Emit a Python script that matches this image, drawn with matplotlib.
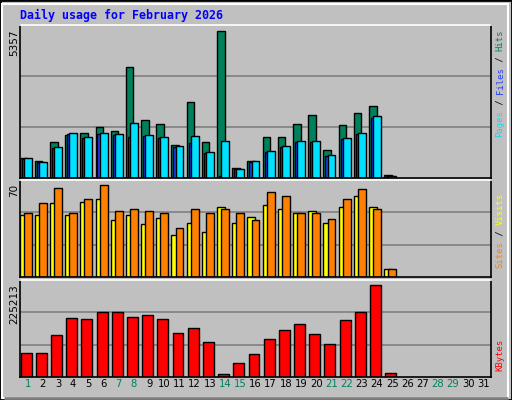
import matplotlib
matplotlib.use("Agg")
import matplotlib.pyplot as plt
from matplotlib.patches import Rectangle
import numpy as np

days = list(range(1, 32))
hits = [730, 620, 1310, 1570, 1640, 1860, 1710, 4040, 2110, 1970, 1200, 2770, 1310, 5357, 360,
        620, 1490, 1490, 1970, 2290, 1020, 1930, 2370, 2620, 110]
files = [700, 570, 1080, 1600, 1450, 1600, 1560, 1500, 1520, 1450, 1120, 1270, 920, 60, 310,
         600, 950, 1120, 1300, 1300, 800, 1420, 1600, 2200, 60]
pages = [730, 580, 1130, 1640, 1490, 1640, 1600, 2000, 1570, 1490, 1160, 1530, 950, 1350, 330,
         620, 980, 1160, 1350, 1350, 840, 1460, 1640, 2260, 70]
visits = [47, 47, 56, 47, 57, 59, 43, 47, 40, 45, 32, 41, 34, 53, 41, 46, 55, 52, 49, 50, 41, 53, 62, 53, 6]
sites = [49, 56, 68, 49, 59, 70, 50, 52, 50, 49, 37, 52, 49, 52, 49, 43, 65, 62, 49, 49, 44, 59, 67, 52, 6]
kbytes = [58750, 58750, 102800, 144400, 142000, 159100, 159100, 146900, 151800, 142000, 107700,
          120000, 85700, 7300, 34300, 56300, 93000, 115000, 129700, 105300, 80800, 139500, 159100,
          225213, 9800]
weekend = [1, 7, 8, 14, 15, 21, 22, 28, 29]
max_labels = ["5357", "70", "225213"]

W, H = 512, 400
fig = plt.figure(figsize=(W/100, H/100), dpi=100, facecolor="#c0c0c0")
fig.patches.append(Rectangle((0, 0), 1, 1, transform=fig.transFigure, fill=False,
                             edgecolor="black", linewidth=2))
fig.patches.append(Rectangle((2/W, 2/H), 1-6/W, 1-6/H, transform=fig.transFigure, fill=False,
                             edgecolor="white", linewidth=1.5))
fig.patches.append(Rectangle((4/W, 2/H), 1-8/W, 0, transform=fig.transFigure, fill=False,
                             edgecolor="#808080", linewidth=2))

def px_axes(top, bottom):
    return fig.add_axes([20/W, 1-bottom/H, 471/W, (bottom-top)/H])

ax1 = px_axes(25, 178)
ax2 = px_axes(180, 277)
ax3 = px_axes(280, 377)

def style(ax, ymax):
    ax.set_facecolor("#c0c0c0")
    ax.set_xlim(0.5, 31.5)
    ax.set_ylim(0, ymax)
    for f in (1/3, 2/3):
        ax.axhline(ymax*f, color="#808080", linewidth=1.2, zorder=0)
    ax.set_xticks([]); ax.set_yticks([])
    for s in ax.spines.values():
        s.set_color("black"); s.set_linewidth(1.2)
    ax.spines["top"].set_color("white")

n = len(hits)
x = np.arange(1, n+1)
kw = dict(edgecolor="black", linewidth=1, align="edge")
style(ax1, 5357*153/147)
ax1.bar(x-0.53, hits, 0.5, color="#00805c", **kw)
ax1.bar(x-0.40, files, 0.5, color="#2040ff", **kw)
ax1.bar(x-0.26, pages, 0.52, color="#00e0ff", **kw)
style(ax2, 70*97/92)
ax2.bar(x-0.53, visits, 0.5, color="#ffff00", **kw)
ax2.bar(x-0.26, sites, 0.52, color="#ff8000", **kw)
style(ax3, 225213*97/92)
ax3.bar(x-0.46, kbytes, 0.72, color="#ff0000", **kw)

for d in days:
    ax3.text(d, -0.02, str(d), transform=ax3.get_xaxis_transform(), ha="center", va="top",
             fontsize=7.2, color="#008060" if d in weekend else "black")

fig.text(20/W, 1-15/H, "Daily usage for February 2026", family="DejaVu Sans Mono",
         weight="bold", color="#0000ff", fontsize=8.4, va="center", ha="left")

for lab, top in zip(max_labels, [29, 184, 284]):
    fig.text(14/W, 1-top/H, lab, rotation=90, ha="center", va="top", fontsize=7.5,
             family="DejaVu Sans")

def vlabel(parts, bottom_px, x_px=500, ch=5.35):
    y = bottom_px
    for txt, col in parts:
        fig.text(x_px/W, 1-y/H, txt, rotation=90, ha="center", va="bottom", color=col,
                 family="DejaVu Sans Mono", fontsize=6.4)
        y -= ch*len(txt)

vlabel([("Pages", "#00e0ff"), (" / ", "black"), ("Files", "#2040ff"), (" / ", "black"),
        ("Hits", "#008060")], 137)
vlabel([("Sites", "#ff8000"), (" / ", "black"), ("Visits", "#ffff00")], 268)
vlabel([("KBytes", "#ff0000")], 371)

fig.savefig("out.png", dpi=100, facecolor=fig.get_facecolor())
